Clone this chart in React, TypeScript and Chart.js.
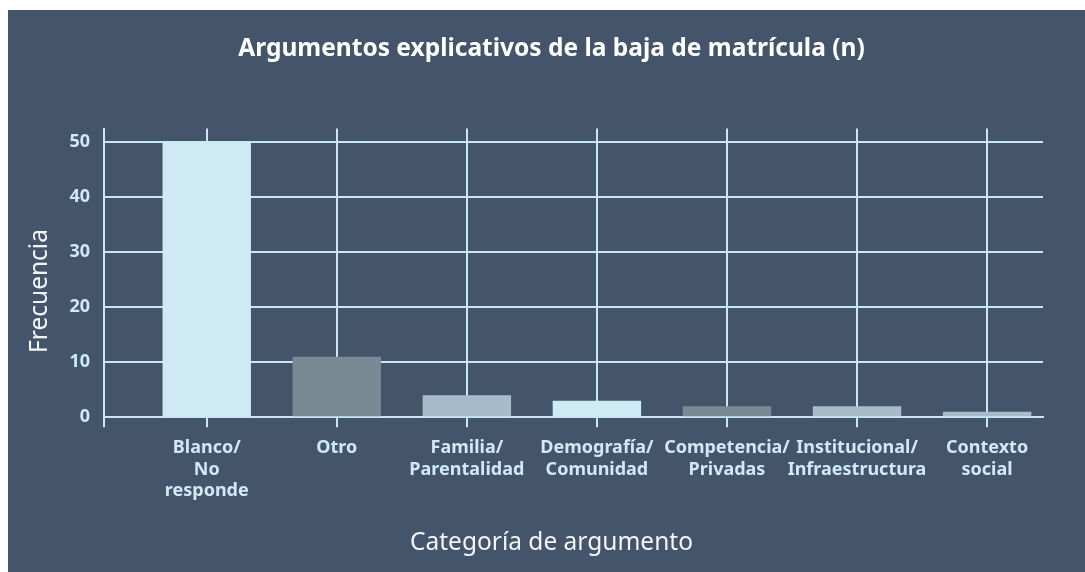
import React, { useEffect, useRef } from "react";
import { Chart, registerables } from "chart.js";

Chart.register(...registerables);

const categories: (string | string[])[] = [
  ["Blanco/", "No", "responde"],
  "Otro",
  ["Familia/", "Parentalidad"],
  ["Demografía/", "Comunidad"],
  ["Competencia/", "Privadas"],
  ["Institucional/", "Infraestructura"],
  ["Contexto", "social"],
];
const frecuencias = [50, 11, 4, 3, 2, 2, 1];
const barColors = ["#cdeaf5", "#798a94", "#a7bccb", "#cdeaf5", "#798a94", "#a7bccb", "#a7bccb"];
const yTickValues = [0, 10, 20, 30, 40, 50];
const titleText = "Argumentos explicativos de la baja de matrícula (n)";
const xTitleText = "Categoría de argumento";
const yTitleText = "Frecuencia";

const BG = "#44546a";
const GRID = "#c9e7f3";
const TICK = "#cfe9f5";
const FONT = "'Noto Sans', sans-serif";

export default function App() {
  const ref = useRef<HTMLCanvasElement | null>(null);
  useEffect(() => {
    if (!ref.current) return;
    const yTitlePlugin = {
      id: "yTitle",
      afterDraw(chart: any) {
        const ctx = chart.ctx;
        ctx.save();
        ctx.translate(32, chart.height / 2);
        ctx.rotate(-Math.PI / 2);
        ctx.font = `24.5px ${FONT}`;
        ctx.fillStyle = "#f2f4f6";
        ctx.textAlign = "center";
        ctx.textBaseline = "middle";
        ctx.fillText(yTitleText, 0, 0);
        ctx.restore();
      },
      beforeDatasetsDraw(chart: any) {
        const ctx = chart.ctx;
        const a = chart.chartArea;
        ctx.save();
        ctx.strokeStyle = GRID;
        ctx.lineWidth = 2;
        ctx.beginPath();
        ctx.moveTo(a.left, a.bottom);
        ctx.lineTo(a.left, a.bottom + 10);
        ctx.stroke();
        ctx.restore();
      },
    };
    const chart = new Chart(ref.current, {
      type: "bar",
      data: {
        datasets: [
          {
            data: frecuencias.map((v, i) => ({ x: i, y: v })),
            backgroundColor: barColors,
            borderWidth: 0,
            barPercentage: 0.68,
            categoryPercentage: 1,
          },
        ],
      },
      options: {
        animation: false,
        responsive: false,
        layout: { padding: 0 },
        plugins: {
          legend: { display: false },
          tooltip: { enabled: false },
          title: {
            display: true,
            text: titleText,
            color: "#ffffff",
            font: { family: FONT, size: 24.5, weight: "bold", lineHeight: 1.2 },
            padding: { top: 24.3, bottom: 64.8 },
          },
          subtitle: {
            display: true,
            position: "bottom",
            text: xTitleText,
            color: "#f2f4f6",
            font: { family: FONT, size: 24.5, weight: "normal", lineHeight: 1.2 },
            padding: { top: 11, bottom: 14.3 },
          },
        },
        scales: {
          x: {
            type: "linear",
            offset: false,
            min: -0.79,
            max: 6.43,
            afterBuildTicks: (scale: any) => {
              scale.ticks = categories.map((_, i) => ({ value: i }));
            },
            afterFit: (scale: any) => {
              scale.height = 100;
            },
            grid: { offset: false, color: GRID, lineWidth: 2, drawTicks: true, tickLength: 10, tickColor: GRID },
            border: { display: true, color: GRID, width: 2 },
            ticks: {
              autoSkip: false,
              maxRotation: 0,
              minRotation: 0,
              padding: 10,
              color: TICK,
              font: { family: FONT, size: 18, weight: "bold", lineHeight: 1.2 },
              callback: (_v: any, i: number) => categories[i],
            },
          },
          y: {
            min: 0,
            max: 52.5,
            afterBuildTicks: (scale: any) => {
              scale.ticks = yTickValues.map((v) => ({ value: v }));
            },
            afterFit: (scale: any) => {
              scale.width = 96;
            },
            grid: { color: GRID, lineWidth: 2, drawTicks: false },
            border: { display: true, color: GRID, width: 2 },
            ticks: {
              padding: 14,
              color: TICK,
              font: { family: FONT, size: 18, weight: "bold" },
            },
          },
          yRight: {
            type: "linear",
            position: "right",
            display: true,
            grid: { display: false, drawTicks: false },
            border: { display: false },
            ticks: { display: false },
            afterFit: (scale: any) => {
              scale.width = 52;
            },
          },
        },
      },
      plugins: [yTitlePlugin],
    } as any);
    return () => chart.destroy();
  }, []);
  return (
    <div
      style={{
        position: "fixed",
        left: 8,
        top: 10,
        width: 1077,
        height: 562,
        overflow: "hidden",
        background: BG,
      }}
    >
      <canvas ref={ref} width={1087} height={562} style={{ display: "block", width: 1087, height: 562 }} />
    </div>
  );
}
